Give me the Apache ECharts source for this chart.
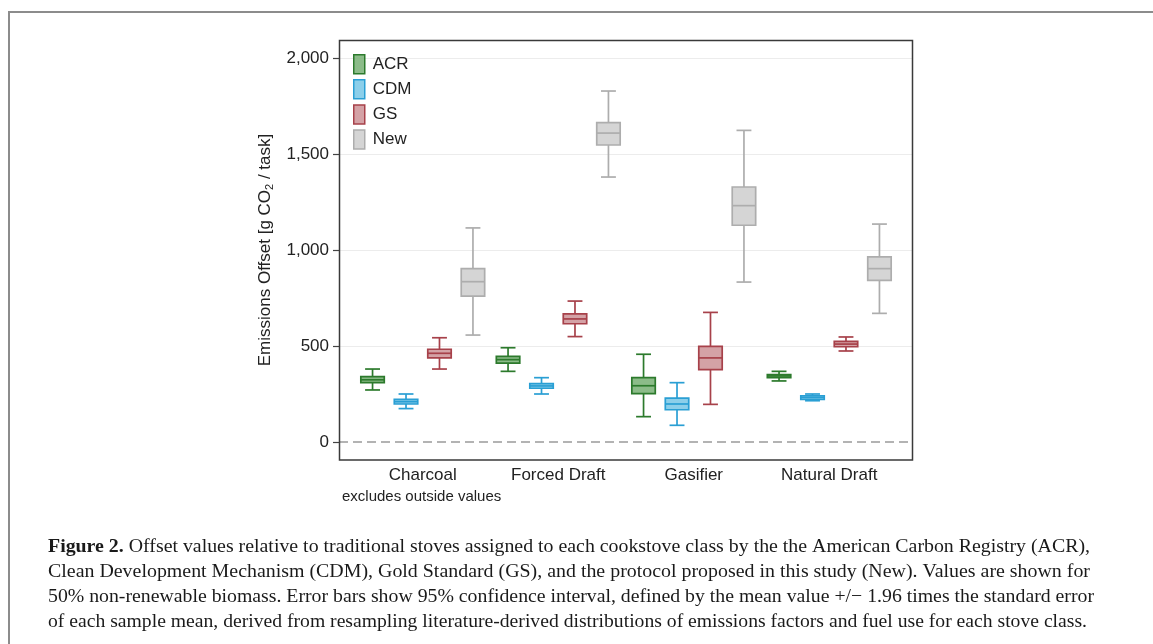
<!DOCTYPE html>
<html>
<head>
<meta charset="utf-8">
<script src="https://cdn.jsdelivr.net/npm/echarts@6/dist/echarts.min.js"></script>
<style>
  html, body { margin: 0; padding: 0; background: #fff; }
  #chart { width: 1153px; height: 644px; }
</style>
</head>
<body>
<div id="chart"></div>
<script>
// stove classes on the x axis
const categories = ['Charcoal', 'Forced Draft', 'Gasifier', 'Natural Draft'];

// per class: [lower whisker, q1, median, q3, upper whisker]  (g CO2 / task)
const acrValues = [[271, 309, 324, 340, 380], [368, 411, 429, 446, 491], [132, 252, 293, 335, 457], [318, 335, 344, 351, 368]];
const cdmValues = [[174, 198, 210, 222, 250], [250, 280, 292, 304, 335], [87, 168, 198, 229, 309], [215, 222, 233, 241, 250]];
const gsValues = [[380, 438, 462, 483, 543], [549, 616, 641, 667, 734], [196, 377, 438, 498, 675], [474, 496, 510, 524, 547]];
const newValues = [[557, 760, 835, 903, 1115], [1380, 1547, 1609, 1663, 1828], [833, 1129, 1231, 1328, 1623], [670, 842, 903, 964, 1135]];

const seriesNames = ['ACR', 'CDM', 'GS', 'New'];
const yTicks = [0, 500, 1000, 1500, 2000];

const captionLines = [
  'Offset values relative to traditional stoves assigned to each cookstove class by the the American Carbon Registry (ACR),',
  'Clean Development Mechanism (CDM), Gold Standard (GS), and the protocol proposed in this study (New). Values are shown for',
  '50% non-renewable biomass. Error bars show 95% confidence interval, defined by the mean value +/\u2212 1.96 times the standard error',
  'of each sample mean, derived from resampling literature-derived distributions of emissions factors and fuel use for each stove class.'
];

const colors = {
  ACR: { stroke: '#2c7a2c', fill: 'rgba(120,176,116,0.85)' },
  CDM: { stroke: '#2a9fd4', fill: 'rgba(128,202,232,0.9)' },
  GS:  { stroke: '#a7414a', fill: 'rgba(204,146,151,0.85)' },
  New: { stroke: '#adadad', fill: '#d5d5d5' }
};

const chart = echarts.init(document.getElementById('chart'));

function renderBox(params, api) {
  const idx = params.seriesIndex - 1;
  const c = colors[seriesNames[idx]];
  const cat = api.value(0);
  const band = api.size([1, 0])[0];
  const off = (idx - 1.5) * band * 0.247;
  const boxW = band * 0.173;
  const capW = band * 0.11;
  const low = api.coord([cat, api.value(1)]);
  const q1 = api.coord([cat, api.value(2)]);
  const med = api.coord([cat, api.value(3)]);
  const q3 = api.coord([cat, api.value(4)]);
  const high = api.coord([cat, api.value(5)]);
  const x = low[0] + off;
  const ls = { stroke: c.stroke, lineWidth: 1.7 };
  return {
    type: 'group',
    children: [
      { type: 'line', shape: { x1: x, y1: high[1], x2: x, y2: q3[1] }, style: ls },
      { type: 'line', shape: { x1: x, y1: q1[1], x2: x, y2: low[1] }, style: ls },
      { type: 'line', shape: { x1: x - capW / 2, y1: high[1], x2: x + capW / 2, y2: high[1] }, style: ls },
      { type: 'line', shape: { x1: x - capW / 2, y1: low[1], x2: x + capW / 2, y2: low[1] }, style: ls },
      { type: 'rect', shape: { x: x - boxW / 2, y: q3[1], width: boxW, height: q1[1] - q3[1] },
        style: { fill: c.fill, stroke: c.stroke, lineWidth: 1.7 } },
      { type: 'line', shape: { x1: x - boxW / 2, y1: med[1], x2: x + boxW / 2, y2: med[1] }, style: ls }
    ]
  };
}

function boxSeries(name, values) {
  return {
    name: name,
    type: 'custom',
    xAxisIndex: 1,
    yAxisIndex: 1,
    renderItem: renderBox,
    itemStyle: { color: colors[name].fill, borderColor: colors[name].stroke },
    encode: { x: 0, y: [1, 2, 3, 4, 5] },
    data: values.map((v, i) => [i].concat(v)),
    z: 5
  };
}

// caption lines are stretched to the printed line width
const measureCtx = document.createElement('canvas').getContext('2d');
const capFont = 19.5;
function textWidth(txt, bold) {
  measureCtx.font = (bold ? 'bold ' : '') + capFont + 'px "Liberation Serif"';
  return measureCtx.measureText(txt).width;
}
const lineRight = [1090, 1090, 1094, 1087];
const captionGraphics = captionLines.map((line, i) => {
  const full = i === 0 ? textWidth('Figure 2.', true) + textWidth(' ' + line, false) : textWidth(line, false);
  return {
    type: 'text',
    x: 48,
    y: 547 + i * 25,
    scaleX: (lineRight[i] - 48) / full,
    style: {
      text: i === 0 ? '{b|Figure 2.} ' + line : line,
      fontFamily: 'Liberation Serif',
      fontSize: capFont,
      fill: '#1a1a1a',
      verticalAlign: 'middle',
      rich: { b: { fontWeight: 'bold', fontFamily: 'Liberation Serif', fontSize: capFont, fill: '#1a1a1a' } }
    }
  };
});

const option = {
  animation: false,
  backgroundColor: '#fff',
  textStyle: { fontFamily: 'Liberation Sans' },
  legend: {
    orient: 'vertical',
    left: 353,
    top: 54,
    padding: 0,
    itemWidth: 11,
    itemHeight: 19,
    itemGap: 4.6,
    textStyle: { fontSize: 17, lineHeight: 19, color: '#222', padding: [0, 0, 0, 3] },
    data: seriesNames.map(n => ({
      name: n,
      icon: 'rect',
      itemStyle: { color: colors[n].fill, borderColor: colors[n].stroke, borderWidth: 1.5 }
    }))
  },
  grid: [
    { left: 339, width: 574, top: 58, height: 384 },
    { left: 355, width: 542, top: 58, height: 384 }
  ],
  xAxis: [
    { type: 'value', gridIndex: 0, min: 0, max: 1, show: false },
    {
      type: 'category',
      gridIndex: 1,
      data: categories,
      offset: 18,
      axisLine: { show: false },
      axisTick: { show: false },
      axisLabel: { fontSize: 17, color: '#222', margin: 7 }
    }
  ],
  yAxis: [
    {
      type: 'value',
      gridIndex: 0,
      min: 0,
      max: 2000,
      interval: 500,
      axisLine: { show: false },
      axisTick: { show: true, length: 6, lineStyle: { color: '#444', width: 1.2 } },
      axisLabel: {
        fontSize: 17,
        color: '#222',
        margin: 10,
        formatter: v => yTicks.indexOf(v) >= 0 ? v.toLocaleString('en-US') : ''
      },
      splitLine: { show: true, showMinLine: false, lineStyle: { color: '#ececec', width: 1 } },
      name: 'Emissions Offset [g CO{sub|2} / task]',
      nameLocation: 'middle',
      nameRotate: 90,
      nameGap: 64,
      nameTextStyle: {
        fontSize: 17,
        color: '#222',
        rich: { sub: { fontSize: 11, color: '#222', padding: [9, 0, 0, 0] } }
      }
    },
    { type: 'value', gridIndex: 1, min: 0, max: 2000, show: false }
  ],
  graphic: [
    { type: 'rect', shape: { x: 9, y: 12, width: 1200, height: 700 },
      style: { fill: 'none', stroke: '#8c8c8c', lineWidth: 2 }, silent: true },
    { type: 'rect', shape: { x: 339.5, y: 40.5, width: 573, height: 419.5 },
      style: { fill: 'none', stroke: '#3a3a3a', lineWidth: 1.5 }, silent: true, z: 10 },
    { type: 'text', x: 342, y: 497,
      style: { text: 'excludes outside values', fontFamily: 'Liberation Sans', fontSize: 15, fill: '#222', verticalAlign: 'middle' } }
  ].concat(captionGraphics),
  series: [
    {
      type: 'line',
      xAxisIndex: 0,
      yAxisIndex: 0,
      data: [],
      silent: true,
      markLine: {
        silent: true,
        symbol: 'none',
        label: { show: false },
        lineStyle: { color: '#9a9a9a', width: 1.6, type: [9, 5] },
        data: [{ yAxis: 0 }]
      }
    },
    boxSeries('ACR', acrValues),
    boxSeries('CDM', cdmValues),
    boxSeries('GS', gsValues),
    boxSeries('New', newValues)
  ]
};

chart.setOption(option);
</script>
</body>
</html>
